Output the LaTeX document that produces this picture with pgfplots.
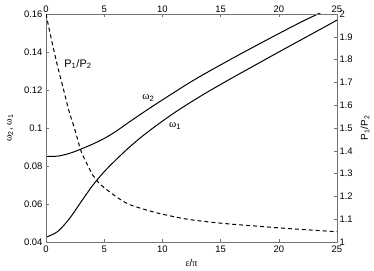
\documentclass[border=0pt]{standalone}
\usepackage{pgfplots}
\pgfplotsset{compat=1.18}
\usepackage{fontspec}
\setmainfont{Liberation Sans}
\newfontfamily\gr{Liberation Serif}
\definecolor{axgray}{gray}{0.45}
\begin{document}
\begin{tikzpicture}
\pgfplotsset{
  common/.style={
    scale only axis, width=291bp, height=228bp,
    xmin=0, xmax=25,
    xtick={0,5,10,15,20,25},
    tick align=inside,
    major tick length=3bp,
    axis line style={axgray, line width=0.5pt},
    every tick/.style={axgray, line width=0.5pt},
    tick label style={font=\fontsize{9.5}{10}\selectfont, black},
    label style={font=\fontsize{10}{11}\selectfont},
    /pgf/number format/assume math mode=true,
    scaled ticks=false,
  }
}
\begin{axis}[common,
  ymin=0.04, ymax=0.16,
  ytick={0.04,0.06,0.08,0.1,0.12,0.14,0.16},
  yticklabel style={/pgf/number format/.cd, fixed, precision=2},
  xtick pos=bottom, ytick pos=left,
  xlabel={{\gr ε}/{\gr π}},
  ylabel={{\gr ω}\textsubscript{2}, {\gr ω}\textsubscript{1}},
  xlabel style={at={([yshift=-21bp]axis description cs:0.5,0)}, anchor=center},
  ylabel style={at={([xshift=-36bp]axis description cs:0,0.5)}, anchor=center},
]
\coordinate (sw) at (rel axis cs:0,0);
\coordinate (ne) at (rel axis cs:1,1);
\addplot[black, line width=1pt, smooth] coordinates {
(0,0.0850) (1,0.0852) (2,0.0866) (3,0.0889) (4,0.0915) (5,0.0945) (6,0.0982)
(7,0.1025) (8,0.1067) (9,0.1108) (10,0.1148) (11,0.1187) (12,0.1226) (13,0.1263)
(14,0.1298) (16,0.1366) (18,0.1432) (20,0.1497) (22,0.1560) (23.7,0.1610)
};
\addplot[black, line width=1pt, smooth] coordinates {
(0,0.0425) (1,0.0455) (2,0.0522) (3,0.0610) (4,0.0697) (5,0.0770) (6,0.0832)
(7,0.0890) (8,0.0943) (9,0.0991) (10,0.1036) (11,0.1079) (12,0.1119) (13,0.1157)
(14,0.1194) (16,0.1264) (18,0.1332) (20,0.1400) (22,0.1467) (24,0.1534) (25,0.1568)
};
\node[font=\fontsize{11}{12}\selectfont] at (axis cs:8.8,0.1158) {{\gr ω}\textsubscript{2}};
\node[font=\fontsize{11}{12}\selectfont] at (axis cs:11.1,0.1010) {{\gr ω}\textsubscript{1}};
\node[font=\fontsize{11}{12}\selectfont] at (axis cs:2.75,0.1337) {P\textsubscript{1}/P\textsubscript{2}};
\end{axis}
\begin{axis}[common,
  ymin=1, ymax=2,
  ytick={1,1.1,1.2,1.3,1.4,1.5,1.6,1.7,1.8,1.9,2},
  xtick pos=top, xticklabel pos=top,
  ytick pos=right, yticklabel pos=right,
  ylabel={P\textsubscript{1}/P\textsubscript{2}},
  ylabel style={at={([xshift=28bp]axis description cs:1,0.5)}, anchor=center, rotate=0},
  xticklabel style={yshift=-2.5bp},
  yticklabel style={xshift=-1bp},
]
\addplot[black, line width=1pt, dash pattern=on 4pt off 3pt, smooth] coordinates {
(0,2.0) (0.5,1.88) (1,1.77) (1.5,1.67) (2,1.57) (2.5,1.49) (3,1.40) (3.5,1.345)
(4,1.295) (4.5,1.262) (5,1.238) (6,1.20) (7,1.168) (8,1.150) (9,1.135) (10,1.122)
(12,1.101) (14,1.088) (16,1.078) (18,1.070) (20,1.062) (22,1.055) (25,1.045)
};
\end{axis}
\pgfresetboundingbox
\path ([shift={(-46bp,-29bp)}]sw) rectangle ([shift={(37bp,14bp)}]ne);
\end{tikzpicture}
\end{document}
